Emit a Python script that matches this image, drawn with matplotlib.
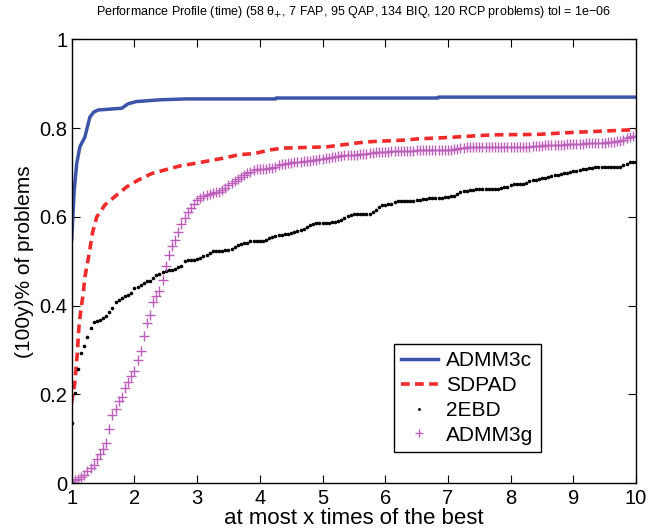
import numpy as np
import matplotlib
matplotlib.use('Agg')
import matplotlib.pyplot as plt

plt.rcParams['font.family'] = ['Liberation Sans', 'DejaVu Sans']

# performance ratio grid used for the marker series
x_grid = np.round(np.arange(1.0, 10.0001, 0.05), 2)

# ADMM3c (solid line, read at its corners)
admm3c_x = [1.0, 1.04, 1.08, 1.13, 1.21, 1.29, 1.35, 1.42, 1.80, 1.85, 1.90, 2.03,
            2.41, 2.83, 4.25, 4.26, 6.84, 6.85, 10.0]
admm3c_y = [0.548, 0.66, 0.72, 0.758, 0.78, 0.825, 0.836, 0.841, 0.845, 0.850, 0.855, 0.860,
            0.864, 0.866, 0.866, 0.868, 0.868, 0.870, 0.870]

# SDPAD (dashed line)
sdpad_x = [1.0, 1.01, 1.05, 1.09, 1.105, 1.12, 1.15, 1.185, 1.21, 1.28, 1.33, 1.40, 1.53,
           1.69, 1.88, 2.06, 2.28, 2.49, 2.73, 3.02, 3.44, 3.66, 3.92, 4.16, 4.37, 5.07,
           5.57, 5.81, 6.29, 6.53, 7.01, 7.22, 7.72, 8.44, 8.92, 9.40, 9.88, 10.0]
sdpad_y = [0.18, 0.191, 0.225, 0.293, 0.33, 0.36, 0.394, 0.428, 0.464, 0.518, 0.563, 0.60,
           0.627, 0.646, 0.668, 0.683, 0.698, 0.706, 0.715, 0.722, 0.733, 0.74, 0.743, 0.751,
           0.755, 0.758, 0.767, 0.77, 0.773, 0.776, 0.779, 0.781, 0.785, 0.786, 0.79, 0.793,
           0.796, 0.797]

# 2EBD (dots), one value per x_grid step
ebd_y = [
    0.135, 0.202, 0.258, 0.292, 0.309, 0.330, 0.349, 0.364, 0.366, 0.368,   # 1.00-1.45
    0.371, 0.377, 0.385, 0.394, 0.407, 0.413, 0.418, 0.422, 0.425, 0.428,   # 1.50-1.95
    0.439, 0.441, 0.446, 0.451, 0.456, 0.456, 0.463, 0.468, 0.472, 0.475,   # 2.00-2.45
    0.478, 0.480, 0.481, 0.483, 0.487, 0.490, 0.500, 0.502, 0.503, 0.503,   # 2.50-2.95
    0.505, 0.508, 0.511, 0.514, 0.518, 0.522, 0.523, 0.524, 0.524, 0.525,   # 3.00-3.45
    0.526, 0.527, 0.532, 0.536, 0.538, 0.540, 0.542, 0.546, 0.546, 0.546,   # 3.50-3.95
    0.546, 0.546, 0.548, 0.552, 0.555, 0.557, 0.559, 0.560, 0.561, 0.562,   # 4.00-4.45
    0.564, 0.566, 0.569, 0.571, 0.573, 0.577, 0.582, 0.585, 0.587, 0.587,   # 4.50-4.95
    0.587, 0.587, 0.587, 0.588, 0.589, 0.590, 0.593, 0.597, 0.601, 0.604,   # 5.00-5.45
    0.606, 0.607, 0.607, 0.607, 0.607, 0.607, 0.611, 0.615, 0.622, 0.627,   # 5.50-5.95
    0.627, 0.628, 0.628, 0.633, 0.635, 0.636, 0.636, 0.636, 0.636, 0.636,   # 6.00-6.45
    0.637, 0.639, 0.640, 0.641, 0.643, 0.643, 0.643, 0.643, 0.643, 0.644,   # 6.50-6.95
    0.645, 0.646, 0.647, 0.652, 0.657, 0.658, 0.659, 0.660, 0.661, 0.662,   # 7.00-7.45
    0.663, 0.663, 0.663, 0.663, 0.663, 0.663, 0.663, 0.665, 0.667, 0.668,   # 7.50-7.95
    0.671, 0.674, 0.674, 0.674, 0.674, 0.676, 0.681, 0.683, 0.684, 0.685,   # 8.00-8.45
    0.687, 0.688, 0.690, 0.692, 0.694, 0.695, 0.696, 0.698, 0.700, 0.702,   # 8.50-8.95
    0.703, 0.704, 0.706, 0.708, 0.709, 0.710, 0.711, 0.712, 0.713, 0.713,   # 9.00-9.45
    0.713, 0.713, 0.713, 0.713, 0.713, 0.713, 0.717, 0.720, 0.724, 0.724,   # 9.50-9.95
    0.724,                                                                  # 10.00
]

# ADMM3g (plus markers), one value per x_grid step
admm3g_y = [
    0.002, 0.006, 0.010, 0.014, 0.019, 0.026, 0.034, 0.041, 0.054, 0.065,   # 1.00-1.45
    0.077, 0.090, 0.122, 0.153, 0.167, 0.186, 0.195, 0.215, 0.228, 0.241,   # 1.50-1.95
    0.253, 0.277, 0.297, 0.332, 0.361, 0.379, 0.407, 0.421, 0.433, 0.458,   # 2.00-2.45
    0.490, 0.515, 0.535, 0.548, 0.567, 0.585, 0.597, 0.610, 0.621, 0.628,   # 2.50-2.95
    0.637, 0.642, 0.646, 0.649, 0.651, 0.653, 0.655, 0.657, 0.661, 0.666,   # 3.00-3.45
    0.671, 0.676, 0.681, 0.686, 0.690, 0.694, 0.698, 0.702, 0.706, 0.707,   # 3.50-3.95
    0.707, 0.708, 0.709, 0.710, 0.710, 0.713, 0.717, 0.719, 0.720, 0.721,   # 4.00-4.45
    0.722, 0.723, 0.723, 0.724, 0.725, 0.726, 0.727, 0.728, 0.729, 0.730,   # 4.50-4.95
    0.731, 0.732, 0.733, 0.735, 0.736, 0.737, 0.738, 0.740, 0.740, 0.740,   # 5.00-5.45
    0.740, 0.740, 0.741, 0.741, 0.742, 0.744, 0.745, 0.746, 0.746, 0.747,   # 5.50-5.95
    0.747, 0.747, 0.748, 0.748, 0.749, 0.749, 0.749, 0.749, 0.749, 0.749,   # 6.00-6.45
    0.750, 0.750, 0.750, 0.751, 0.751, 0.751, 0.751, 0.751, 0.751, 0.751,   # 6.50-6.95
    0.751, 0.751, 0.752, 0.753, 0.755, 0.756, 0.757, 0.758, 0.758, 0.758,   # 7.00-7.45
    0.758, 0.758, 0.758, 0.758, 0.758, 0.758, 0.758, 0.758, 0.758, 0.758,   # 7.50-7.95
    0.758, 0.758, 0.758, 0.758, 0.758, 0.758, 0.758, 0.759, 0.759, 0.760,   # 8.00-8.45
    0.760, 0.761, 0.761, 0.762, 0.762, 0.762, 0.763, 0.763, 0.764, 0.764,   # 8.50-8.95
    0.764, 0.765, 0.765, 0.765, 0.766, 0.766, 0.766, 0.767, 0.767, 0.767,   # 9.00-9.45
    0.767, 0.768, 0.768, 0.769, 0.770, 0.771, 0.774, 0.777, 0.780, 0.782,   # 9.50-9.95
    0.783,                                                                  # 10.00
]

labels = ['ADMM3c', 'SDPAD', '2EBD', 'ADMM3g']
title = ('Performance Profile (time) (58 \u03b8$_{+}$, 7 FAP, 95 QAP, 134 BIQ, '
         '120 RCP problems) tol = 1e\u221206')

fig = plt.figure(figsize=(6.5, 5.32), dpi=100)
ax = fig.add_axes([0.1103, 0.0921, 0.8682, 0.8337])

ax.plot(admm3c_x, admm3c_y, '-', color='#3d55a8', lw=2.5, label=labels[0])
ax.plot(sdpad_x, sdpad_y, '--', color='#f02a2a', lw=2.6, dashes=(2.4, 1.5), label=labels[1])
ax.plot(x_grid, ebd_y, 'o', color='black', ms=2.6, mew=0, label=labels[2])
ax.plot(x_grid, admm3g_y, '+', color='#bb5fbb', ms=7, mew=1.0, label=labels[3])

ax.set_xlim(1, 10)
ax.set_ylim(0, 1)
ax.set_xticks(range(1, 11))
ax.set_yticks([0, 0.2, 0.4, 0.6, 0.8, 1])
ax.set_yticklabels(['0', '0.2', '0.4', '0.6', '0.8', '1'])
ax.tick_params(direction='in', top=True, right=True, length=6, width=0.8,
               labelsize=14.5)
ax.tick_params(axis='x', pad=4)
ax.tick_params(axis='y', pad=3)
for s in ax.spines.values():
    s.set_linewidth(1.0)

ax.set_xlabel('at most x times of the best', fontsize=16, labelpad=0)
ax.set_ylabel('(100y)% of problems', fontsize=15, labelpad=4)
fig.text(0.5445, 0.977, title, ha='center', va='center', fontsize=9)

leg = ax.legend(loc='lower left', bbox_to_anchor=(0.571, 0.07), borderaxespad=0,
                fontsize=15, fancybox=False, framealpha=1, edgecolor='black',
                handlelength=1.75, handletextpad=0.4, labelspacing=0.28,
                borderpad=0.35, markerscale=0.8)
leg.get_frame().set_linewidth(1.0)

fig.savefig('out.png', dpi=100)
